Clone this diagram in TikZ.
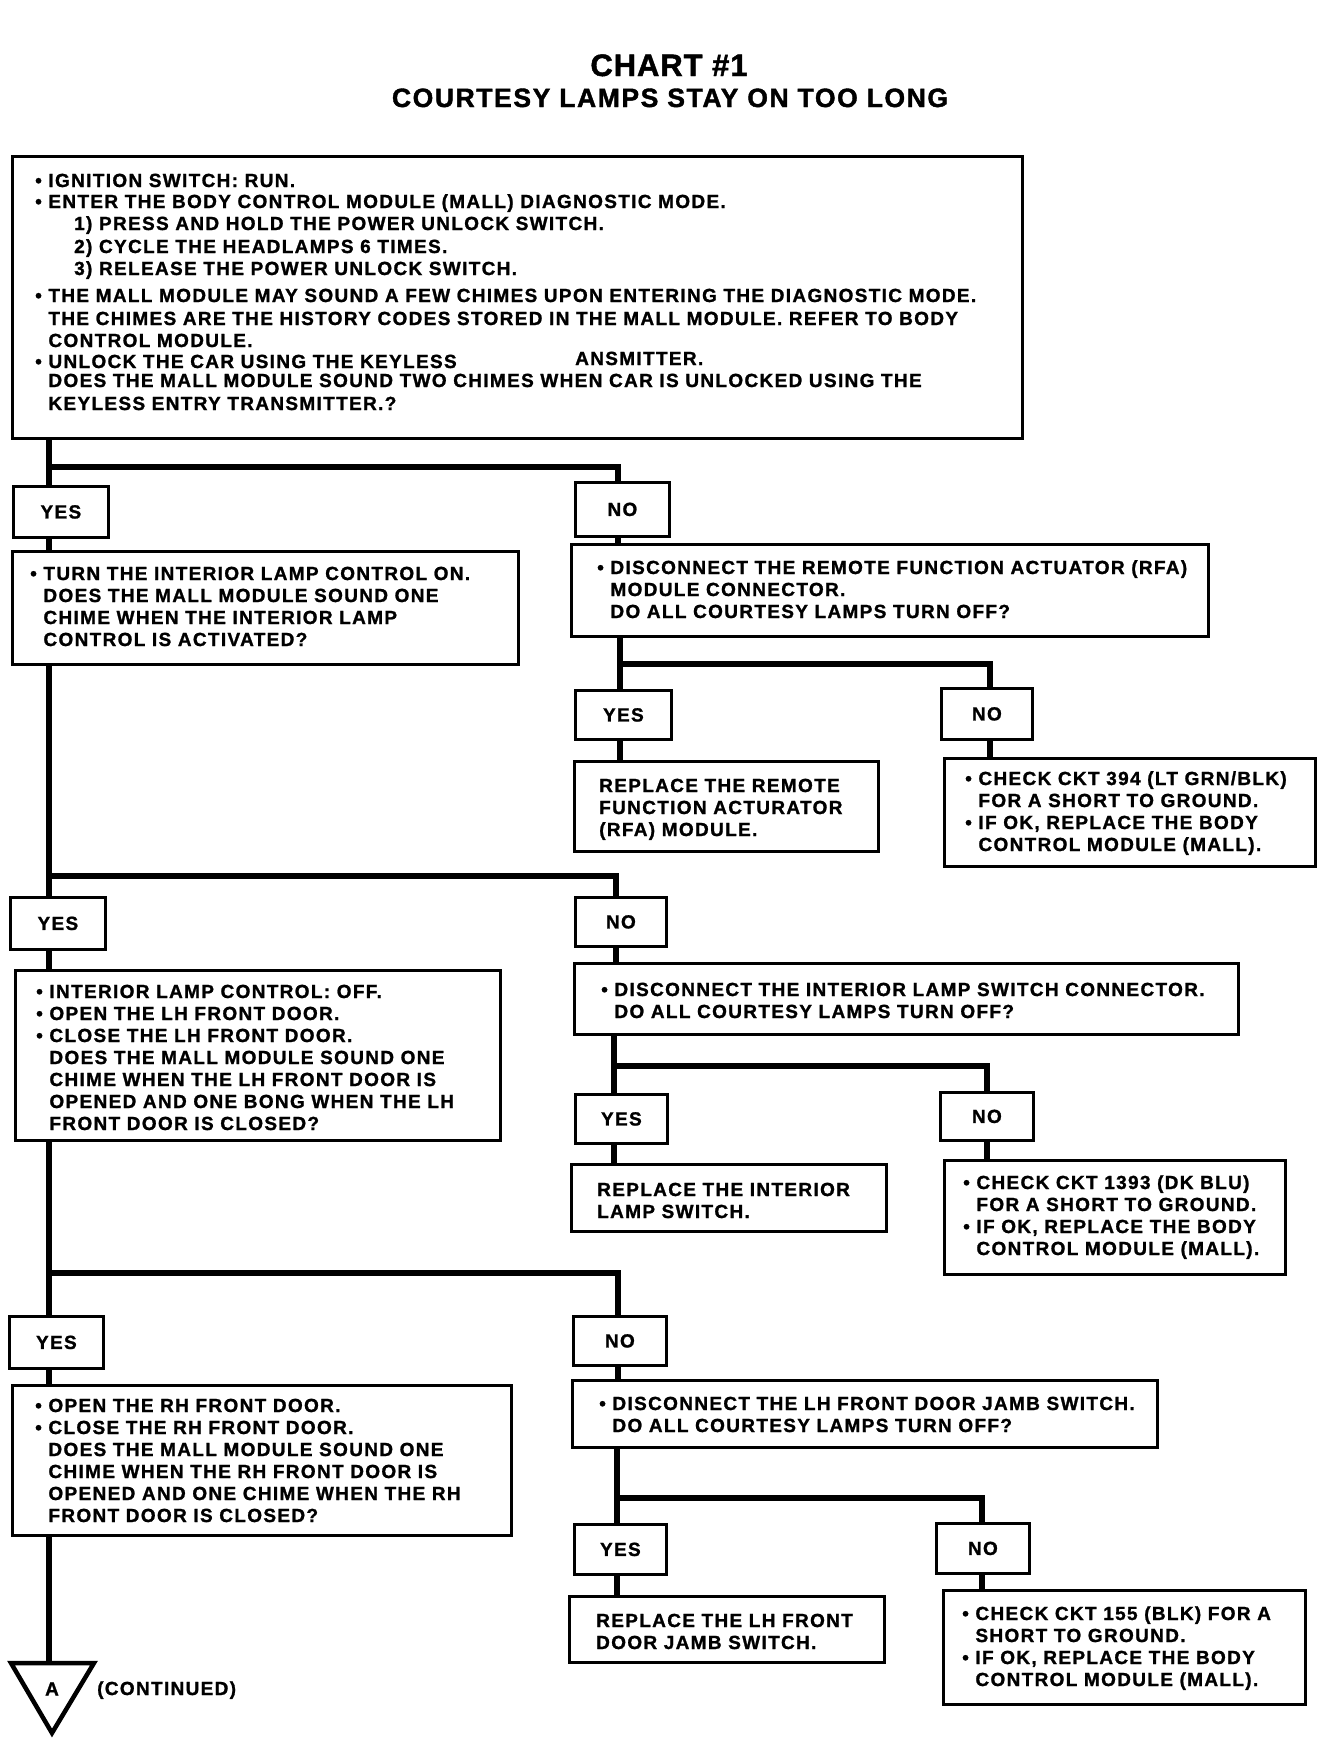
\documentclass[tikz,border=0pt]{standalone}
\usepackage{fontspec}
\newfontfamily\bxfont{Liberation Sans}[LetterSpace=7, BoldFeatures={FakeBold=1.2}]
\newfontfamily\ttlafont{Liberation Sans}[LetterSpace=3, BoldFeatures={FakeBold=1.5}]
\newfontfamily\ttlbfont{Liberation Sans}[LetterSpace=6, BoldFeatures={FakeBold=1.5}]
\newcommand\tb[1]{\begin{tabular}[t]{@{}l@{}}#1\end{tabular}}
\newcommand\ind{\hphantom{• }}
\newcommand\bxn[6]{\node[lab, minimum width={#4-#2}, minimum height={#5-#3}] (#1) at (#2,#3) {#6};}
\begin{document}
\begin{tikzpicture}[x=1pt,y=-1pt,
  conn/.style={line width=6pt, line join=miter},
  boxst/.style={draw, line width=2.8pt, fill=white, inner sep=0pt, anchor=north west},
  lab/.style={boxst, font=\bxfont\bfseries\fontsize{19}{22}\selectfont},
  txt/.style={anchor=base west, inner sep=0pt, font=\bxfont\bfseries\fontsize{19}{22}\selectfont},
  tri/.style={draw, line width=4.5pt, line join=miter}]
\useasboundingbox (0,0) rectangle (1328,1740);
\fill[white] (0,0) rectangle (1328,1740);

% title
\node[anchor=base, inner sep=0pt, font=\ttlafont\bfseries\fontsize{31}{36}\selectfont] (title1) at (669,76) {CHART \#1};
\node[anchor=base, inner sep=0pt, font=\ttlbfont\bfseries\fontsize{26.5}{30}\selectfont] (title2) at (670,107) {COURTESY LAMPS STAY ON TOO LONG};

% boxes
\bxn{top}{11}{155}{1021}{437}{}
\bxn{yes1}{12}{485}{107}{536}{YES}
\bxn{no1}{574}{481}{668}{535}{NO}
\bxn{A}{11}{550}{517}{663}{}
\bxn{B}{570}{543}{1207}{635}{}
\bxn{yes2}{574}{689}{670}{738}{YES}
\bxn{no2}{940}{687}{1031}{738}{NO}
\bxn{C}{573}{760}{877}{850}{}
\bxn{D}{943}{757}{1314}{865}{}
\bxn{yes3}{9}{896}{104}{948}{YES}
\bxn{no3}{574}{896}{665}{945}{NO}
\bxn{E}{14}{969}{499}{1139}{}
\bxn{F}{573}{962}{1237}{1033}{}
\bxn{yes4}{574}{1093}{666}{1142}{YES}
\bxn{no4}{939}{1091}{1032}{1139}{NO}
\bxn{G}{570}{1163}{885}{1230}{}
\bxn{H}{943}{1159}{1284}{1273}{}
\bxn{yes5}{8}{1315}{102}{1367}{YES}
\bxn{no5}{572}{1315}{665}{1364}{NO}
\bxn{I}{11}{1384}{510}{1534}{}
\bxn{J}{571}{1379}{1156}{1446}{}
\bxn{yes6}{573}{1523}{665}{1573}{YES}
\bxn{no6}{935}{1522}{1028}{1572}{NO}
\bxn{K}{568}{1595}{883}{1661}{}
\bxn{L}{942}{1589}{1304}{1703}{}

% texts
\node[txt] (ttop) at (35,187) {\tb{• IGNITION SWITCH: RUN.\\[-1pt]
• ENTER THE BODY CONTROL MODULE (MALL) DIAGNOSTIC MODE.\\
\hspace*{39pt}1) PRESS AND HOLD THE POWER UNLOCK SWITCH.\\[1pt]
\hspace*{39pt}2) CYCLE THE HEADLAMPS 6 TIMES.\\
\hspace*{39pt}3) RELEASE THE POWER UNLOCK SWITCH.\\[5pt]
• THE MALL MODULE MAY SOUND A FEW CHIMES UPON ENTERING THE DIAGNOSTIC MODE.\\[1pt]
\ind THE CHIMES ARE THE HISTORY CODES STORED IN THE MALL MODULE. REFER TO BODY\\
\ind CONTROL MODULE.\\[-1pt]
• UNLOCK THE CAR USING THE KEYLESS\\[-3pt]
\ind DOES THE MALL MODULE SOUND TWO CHIMES WHEN CAR IS UNLOCKED USING THE\\[1pt]
\ind KEYLESS ENTRY TRANSMITTER.?}};
\node[txt] (tans) at (575,365) {ANSMITTER.};

\node[txt] (tA) at (30,580) {\tb{• TURN THE INTERIOR LAMP CONTROL ON.\\
\ind DOES THE MALL MODULE SOUND ONE\\
\ind CHIME WHEN THE INTERIOR LAMP\\
\ind CONTROL IS ACTIVATED?}};
\node[txt] (tB) at (597,574) {\tb{• DISCONNECT THE REMOTE FUNCTION ACTUATOR (RFA)\\
\ind MODULE CONNECTOR.\\
\ind DO ALL COURTESY LAMPS TURN OFF?}};
\node[txt] (tC) at (599,792) {\tb{REPLACE THE REMOTE\\
FUNCTION ACTURATOR\\
(RFA) MODULE.}};
\node[txt] (tD) at (965,785) {\tb{• CHECK CKT 394 (LT GRN/BLK)\\
\ind FOR A SHORT TO GROUND.\\
• IF OK, REPLACE THE BODY\\
\ind CONTROL MODULE (MALL).}};

\node[txt] (tE) at (36,998) {\tb{• INTERIOR LAMP CONTROL: OFF.\\
• OPEN THE LH FRONT DOOR.\\
• CLOSE THE LH FRONT DOOR.\\
\ind DOES THE MALL MODULE SOUND ONE\\
\ind CHIME WHEN THE LH FRONT DOOR IS\\
\ind OPENED AND ONE BONG WHEN THE LH\\
\ind FRONT DOOR IS CLOSED?}};
\node[txt] (tF) at (601,996) {\tb{• DISCONNECT THE INTERIOR LAMP SWITCH CONNECTOR.\\
\ind DO ALL COURTESY LAMPS TURN OFF?}};
\node[txt] (tG) at (597,1196) {\tb{REPLACE THE INTERIOR\\
LAMP SWITCH.}};
\node[txt] (tH) at (963,1189) {\tb{• CHECK CKT 1393 (DK BLU)\\
\ind FOR A SHORT TO GROUND.\\
• IF OK, REPLACE THE BODY\\
\ind CONTROL MODULE (MALL).}};

\node[txt] (tI) at (35,1412) {\tb{• OPEN THE RH FRONT DOOR.\\
• CLOSE THE RH FRONT DOOR.\\
\ind DOES THE MALL MODULE SOUND ONE\\
\ind CHIME WHEN THE RH FRONT DOOR IS\\
\ind OPENED AND ONE CHIME WHEN THE RH\\
\ind FRONT DOOR IS CLOSED?}};
\node[txt] (tJ) at (599,1410) {\tb{• DISCONNECT THE LH FRONT DOOR JAMB SWITCH.\\
\ind DO ALL COURTESY LAMPS TURN OFF?}};
\node[txt] (tK) at (596,1627) {\tb{REPLACE THE LH FRONT\\
DOOR JAMB SWITCH.}};
\node[txt] (tL) at (962,1620) {\tb{• CHECK CKT 155 (BLK) FOR A\\
\ind SHORT TO GROUND.\\
• IF OK, REPLACE THE BODY\\
\ind CONTROL MODULE (MALL).}};

% columns and junctions
\coordinate (tk) at (49,0);
\coordinate (c1) at (618,0);
\coordinate (s1l) at (620,0);
\coordinate (s1r) at (990,0);
\coordinate (c2) at (616,0);
\coordinate (s2l) at (614,0);
\coordinate (s2r) at (987,0);
\coordinate (c3) at (618,0);
\coordinate (s3l) at (617,0);
\coordinate (s3r) at (982,0);
\coordinate (j1) at (49,467);
\coordinate (k1) at (620,664);
\coordinate (j2) at (49,876);
\coordinate (k2) at (614,1066);
\coordinate (j3) at (49,1273);
\coordinate (k3) at (617,1498);

% triangle
\coordinate (tl) at (11,1663);
\coordinate (tr) at (94,1663);
\coordinate (ap) at (52,1733);
\coordinate (tritop) at (49,1663);
\draw[tri] (tl) -- (tr) -- (ap) -- cycle;
\node[inner sep=0pt, font=\bxfont\bfseries\fontsize{19}{22}\selectfont] (lblA) at (52,1689) {A};
\node[txt] (cont) at (97,1695) {(CONTINUED)};

% connectors
\draw[conn] (top.south -| tk) -- (yes1.north -| tk);
\draw[conn] (j1) -| (no1.north -| c1);
\draw[conn] (yes1.south -| tk) -- (A.north -| tk);
\draw[conn] (no1.south -| c1) -- (B.north -| c1);
\draw[conn] (B.south -| s1l) -- (yes2.north -| s1l);
\draw[conn] (k1) -| (no2.north -| s1r);
\draw[conn] (yes2.south -| s1l) -- (C.north -| s1l);
\draw[conn] (no2.south -| s1r) -- (D.north -| s1r);

\draw[conn] (A.south -| tk) -- (yes3.north -| tk);
\draw[conn] (j2) -| (no3.north -| c2);
\draw[conn] (yes3.south -| tk) -- (E.north -| tk);
\draw[conn] (no3.south -| c2) -- (F.north -| c2);
\draw[conn] (F.south -| s2l) -- (yes4.north -| s2l);
\draw[conn] (k2) -| (no4.north -| s2r);
\draw[conn] (yes4.south -| s2l) -- (G.north -| s2l);
\draw[conn] (no4.south -| s2r) -- (H.north -| s2r);

\draw[conn] (E.south -| tk) -- (yes5.north -| tk);
\draw[conn] (j3) -| (no5.north -| c3);
\draw[conn] (yes5.south -| tk) -- (I.north -| tk);
\draw[conn] (no5.south -| c3) -- (J.north -| c3);
\draw[conn] (J.south -| s3l) -- (yes6.north -| s3l);
\draw[conn] (k3) -| (no6.north -| s3r);
\draw[conn] (yes6.south -| s3l) -- (K.north -| s3l);
\draw[conn] (no6.south -| s3r) -- (L.north -| s3r);
\draw[conn] (I.south -| tk) -- (tritop);
\end{tikzpicture}
\end{document}
